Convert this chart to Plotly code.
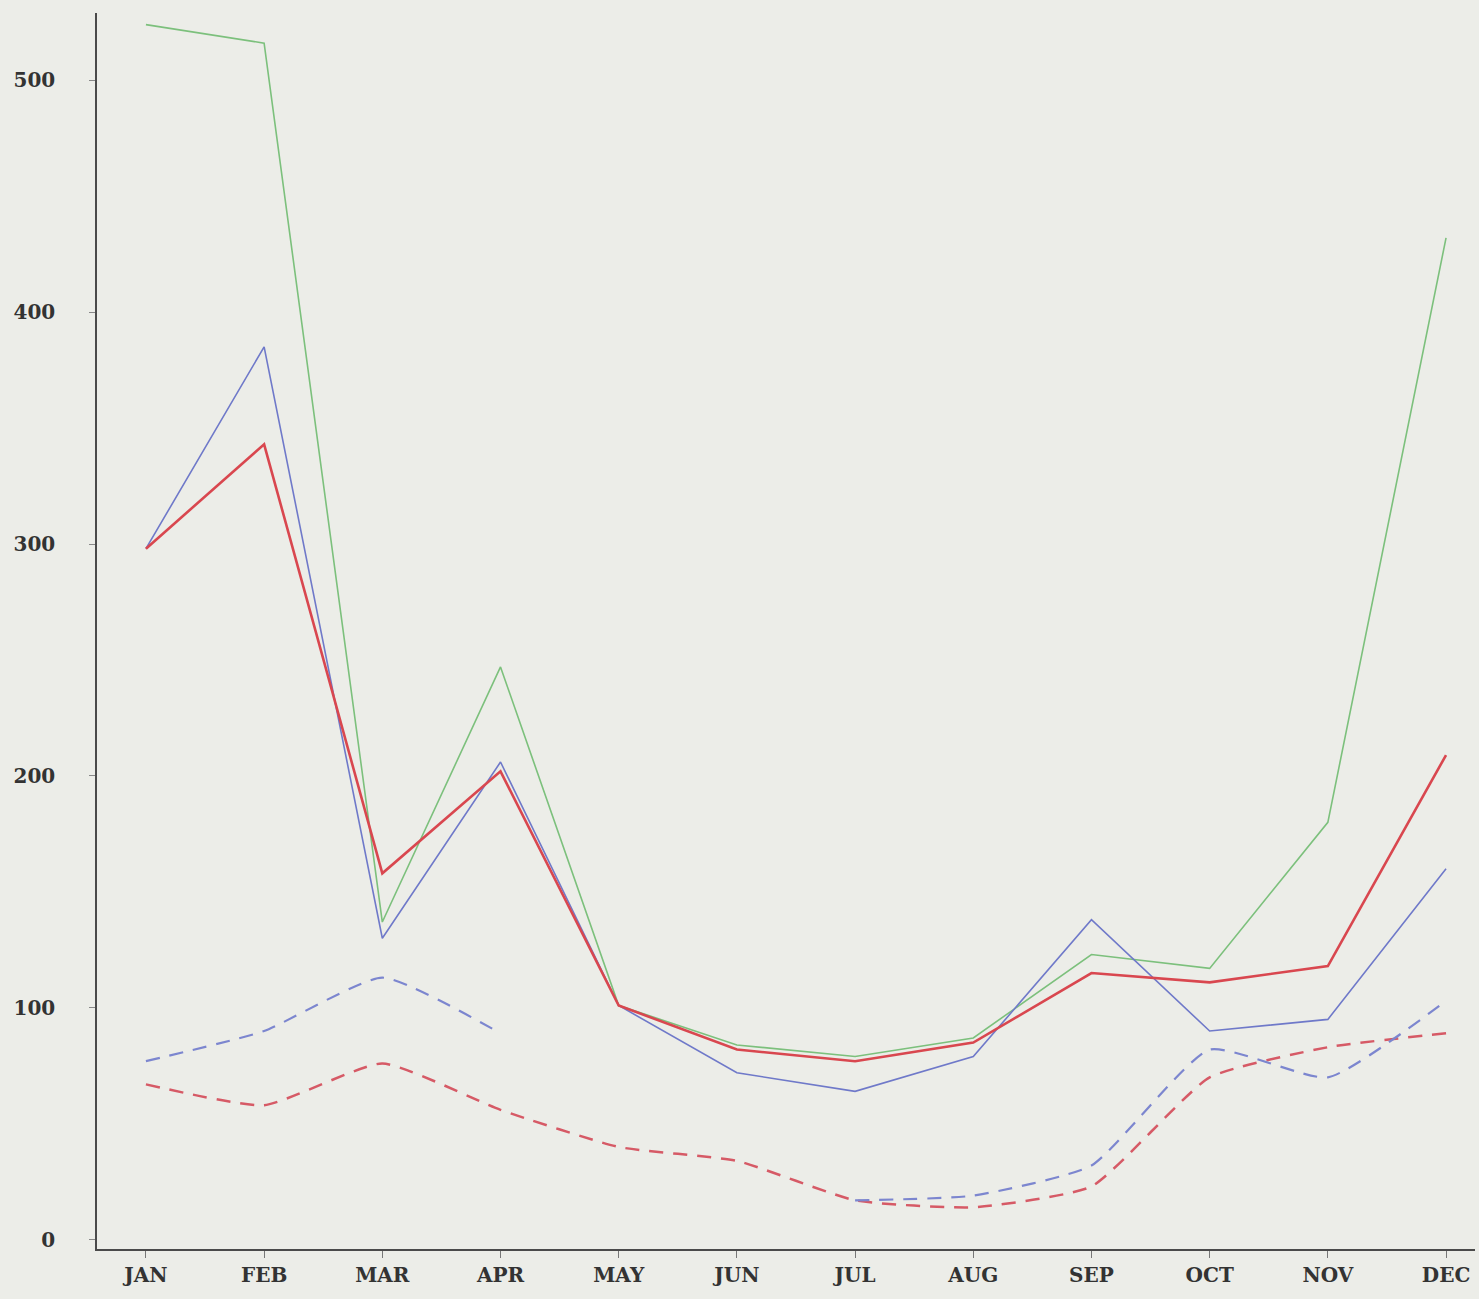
import plotly.graph_objects as go

months = ["JAN", "FEB", "MAR", "APR", "MAY", "JUN", "JUL", "AUG", "SEP", "OCT", "NOV", "DEC"]

green_solid = [524, 516, 137, 247, 101, 84, 79, 87, 123, 117, 180, 432]
blue_solid = [298, 385, 130, 206, 101, 72, 64, 79, 138, 90, 95, 160]
red_solid = [298, 343, 158, 202, 101, 82, 77, 85, 115, 111, 118, 209]
blue_dashed = [77, 90, 113, 89, None, None, 17, 19, 32, 82, 70, 103]
red_dashed = [67, 58, 76, 56, 40, 34, 17, 14, 23, 70, 83, 89]

y_ticks = [0, 100, 200, 300, 400, 500]

x = list(range(len(months)))

fig = go.Figure()

fig.add_trace(go.Scatter(x=x, y=red_dashed, mode="lines",
                         line=dict(color="#d65a66", width=2.5, dash="14px,10px", shape="spline", smoothing=0.5)))
fig.add_trace(go.Scatter(x=x, y=blue_dashed, mode="lines", connectgaps=False,
                         line=dict(color="#7c86cf", width=2.2, dash="14px,10px", shape="spline", smoothing=0.5)))
fig.add_trace(go.Scatter(x=x, y=green_solid, mode="lines",
                         line=dict(color="#7cc07c", width=1.6)))
fig.add_trace(go.Scatter(x=x, y=blue_solid, mode="lines",
                         line=dict(color="#6f79c9", width=1.6)))
fig.add_trace(go.Scatter(x=x, y=red_solid, mode="lines",
                         line=dict(color="#d9474f", width=2.6)))

tick_font = dict(family="DejaVu Serif", size=20, color="#333333", weight="bold")

fig.update_layout(
    width=1479, height=1299,
    margin=dict(l=97, r=4, t=13, b=50),
    paper_bgcolor="#ecede8",
    plot_bgcolor="#ecede8",
    showlegend=False,
    xaxis=dict(
        range=[-0.414, 11.245],
        tickvals=x, ticktext=months,
        showgrid=False, zeroline=False,
        showline=True, linecolor="#4a4a4a", linewidth=1.5,
        ticks="outside", ticklen=7, tickwidth=1, tickcolor="#777777",
        tickfont=tick_font,
    ),
    yaxis=dict(
        range=[-4, 529],
        tickvals=y_ticks, ticktext=[str(v) for v in y_ticks],
        showgrid=False, zeroline=False,
        showline=True, linecolor="#4a4a4a", linewidth=1.5,
        ticks="outside", ticklen=6, tickwidth=1, tickcolor="#888888",
        ticklabelstandoff=30,
        tickfont=tick_font,
    ),
)

fig.write_html(
    "out.html",
    config={"displayModeBar": False},
    post_script="document.body.style.margin='0';document.body.style.background='#ecede8';document.body.style.overflow='hidden';",
)
